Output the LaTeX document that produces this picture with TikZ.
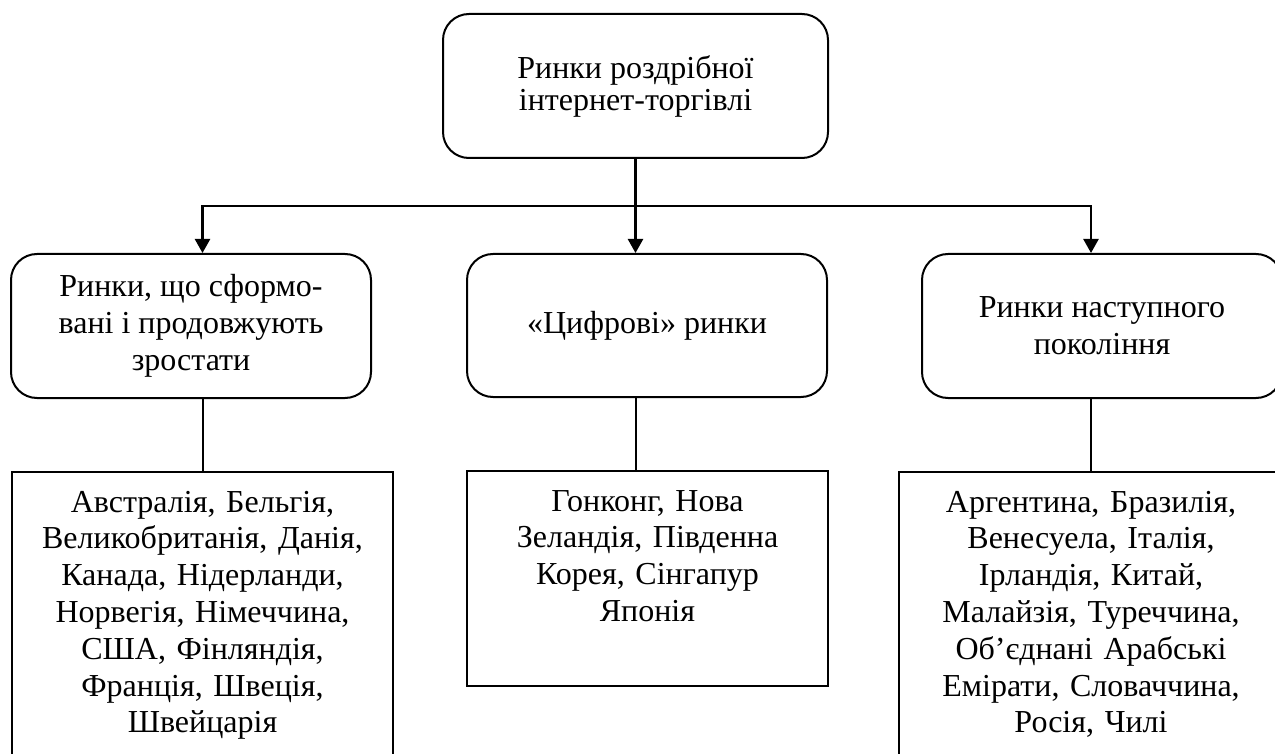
\documentclass[tikz,border=0pt]{standalone}
\usepackage{fontspec}
\setmainfont{Liberation Serif}
\usetikzlibrary{arrows.meta,calc}

\begin{document}
\begin{tikzpicture}[x=0.5pt,y=-0.5pt,>={Triangle[length=7pt,width=7.5pt]},
    roundbox/.style={draw,line width=1pt,rounded corners=13pt,inner sep=0pt,
      align=center,font=\fontsize{16}{18.4}\selectfont},
    listbox/.style={draw,line width=1pt,inner sep=0pt,anchor=north,align=center,
      text height=20pt,font=\fontsize{16}{18.4}\selectfont},
    link/.style={line width=1pt},
    arr/.style={line width=1.2pt,->}]
  \useasboundingbox (0,0) rectangle (1275,754);
  % top
  \node[roundbox,minimum width=192.5pt,minimum height=72pt,
    font=\fontsize{16}{16}\selectfont] (top) at (635.5,86)
    {Ринки роздрібної\\інтернет-торгівлі};
  % middle row
  \node[roundbox,minimum width=180pt,minimum height=72pt] (mid1) at (191,326)
    {Ринки, що сформо-\\вані і продовжують\\зростати};
  \node[roundbox,minimum width=180pt,minimum height=71.5pt] (mid2) at (647,325.5)
    {«Цифрові» ринки};
  \node[roundbox,minimum width=180pt,minimum height=72pt] (mid3) at (1102,326)
    {Ринки наступного\\покоління};
  % lists
  \node[listbox,text width=190.5pt,text depth=200pt] (low1) at (202.5,471)
    {Австралія, Бельгія,\\Великобританія, Данія,\\Канада, Нідерланди,\\
     Норвегія, Німеччина,\\США, Фінляндія,\\Франція, Швеція,\\Швейцарія};
  \node[listbox,text width=180.5pt,text depth=87.5pt] (low2) at (647.5,470)
    {Гонконг, Нова\\Зеландія, Південна\\Корея, Сінгапур\\Японія};
  \node[listbox,text width=192pt,text depth=200pt] (low3) at (1091,471)
    {Аргентина, Бразилія,\\Венесуела, Італія,\\Ірландія, Китай,\\
     Малайзія, Туреччина,\\Об’єднані Арабські\\Емірати, Словаччина,\\Росія, Чилі};
  % arrows
  \coordinate (split) at (top.south |- 0,206);
  \draw[arr] (top.south) -- (top.south |- mid2.north);
  \draw[arr] (split) -| (low1.north |- mid1.north);
  \draw[arr] (split) -| (low3.north |- mid3.north);
  \draw[link] (low1.north |- mid1.south) -- (low1.north);
  \draw[link] (top.south |- mid2.south) -- (top.south |- low2.north);
  \draw[link] (low3.north |- mid3.south) -- (low3.north);
\end{tikzpicture}
\end{document}
